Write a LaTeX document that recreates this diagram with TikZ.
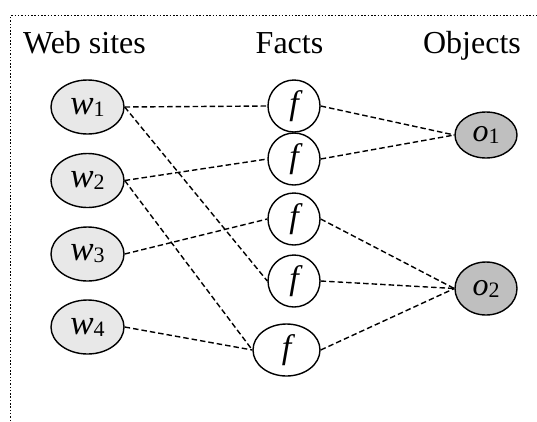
\documentclass[tikz,border=0pt]{standalone}
\usepackage{fontspec}
\setmainfont{Liberation Serif}
\usetikzlibrary{shapes.geometric}
\newcommand\mysub[1]{\raisebox{-2pt}{\fontsize{22}{22}\selectfont\upshape #1}}
\begin{document}
\begin{tikzpicture}[x=1pt,y=-1pt,
 site/.style={ellipse,draw,line width=1.4pt,fill=gray!18,minimum width=73pt,minimum height=54pt,inner sep=0pt,font=\fontsize{35}{35}\selectfont\itshape},
 fact/.style={circle,draw,line width=1.4pt,fill=white,minimum size=52pt,inner sep=0pt,font=\fontsize{34}{34}\selectfont\itshape},
 fact5/.style={ellipse,draw,line width=1.4pt,fill=white,minimum width=67pt,minimum height=52pt,inner sep=0pt,font=\fontsize{34}{34}\selectfont\itshape},
 obj/.style={ellipse,draw,line width=1.4pt,fill=gray!50,minimum width=62pt,inner sep=0pt,font=\fontsize{32}{32}\selectfont\itshape},
 link/.style={line width=1.4pt,dash pattern=on 5.5pt off 3pt},
 head/.style={anchor=base,font=\fontsize{32}{32}\selectfont,inner sep=0pt},
 frame/.style={line width=1.5pt,dash pattern=on 1.5pt off 1.8pt}]
\useasboundingbox (0,0) rectangle (537,421);
\coordinate (fa) at (10.7,421);
\coordinate (fb) at (10.7,15.7);
\coordinate (fc) at (537,15.7);
\draw[frame] (fa) -- (fb) -- (fc);
\node[head] (hw) at (84.5,53) {Web sites};
\node[head] (hf) at (289.5,53) {Facts};
\node[head] (ho) at (472,53) {Objects};
\node[site] (w1) at (87.5,107) {w\mysub{1}};
\node[site] (w2) at (87.5,180.5) {w\mysub{2}};
\node[site] (w3) at (87.5,254) {w\mysub{3}};
\node[site] (w4) at (87.5,327) {w\mysub{4}};
\node[fact] (f1) at (294,106) {f};
\node[fact] (f2) at (294,159) {f};
\node[fact] (f3) at (294,219) {f};
\node[fact] (f4) at (294,281) {f};
\node[fact5] (f5) at (286.5,350) {f};
\node[obj,minimum height=46pt] (o1) at (486,135) {o\mysub{1}};
\node[obj,minimum height=53pt] (o2) at (486,288.5) {o\mysub{2}};
\draw[link] (w1.east) -- (f1.west);
\draw[link] (w1.east) -- (f4.west);
\draw[link] (w2.east) -- (f2.west);
\draw[link] (w2.east) -- (f5.west);
\draw[link] (w3.east) -- (f3.west);
\draw[link] (w4.east) -- (f5.west);
\draw[link] (f1.east) -- (o1.west);
\draw[link] (f2.east) -- (o1.west);
\draw[link] (f3.east) -- (o2.west);
\draw[link] (f4.east) -- (o2.west);
\draw[link] (f5.east) -- (o2.west);
\end{tikzpicture}
\end{document}
